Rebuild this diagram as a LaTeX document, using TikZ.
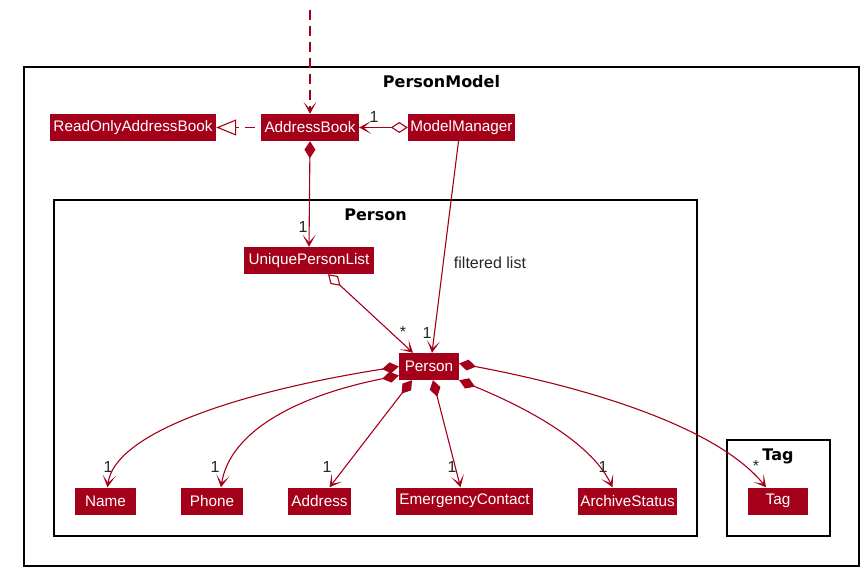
\documentclass[tikz,border=0pt]{standalone}
\usepackage{fontspec}
\setmainfont{DejaVu Sans}
\newfontfamily\clsfont{Liberation Sans}
\usetikzlibrary{arrows.meta}
\definecolor{umlred}{HTML}{A5001A}
\begin{document}
\begin{tikzpicture}[x=1pt,y=-1pt,
  cls/.style={fill=umlred, text=white, font=\clsfont\fontsize{15.3}{17}\selectfont, minimum height=27pt, inner sep=0pt},
  frame/.style={draw=black, line width=1.3pt},
  ttl/.style={font=\fontsize{16}{18}\selectfont\bfseries, inner sep=0pt},
  lbl/.style={font=\clsfont\fontsize{16}{18}\selectfont, inner sep=0pt, text=black!85},
  conn/.style={draw=umlred, line width=1.1pt},
  opentip/.tip={Stealth[length=12pt,width=13pt,inset=7.5pt]},
  fdia/.tip={Diamond[length=17pt,width=11pt]},
  hdia/.tip={Diamond[open,length=17pt,width=11pt,fill=white]},
  dashline/.style={dash pattern=on 10pt off 6pt}
]
\useasboundingbox (0,0) rectangle (866,575);
% frames
\draw[frame] (24,67) rectangle (859,566);
\draw[frame] (54,200) rectangle (697,536);
\draw[frame] (727,440) rectangle (830,536);
\node[ttl] (tmodel) at (441.5,82) {PersonModel};
\node[ttl] (tperson) at (375.5,215) {Person};
\node[ttl] (ttag) at (778,456) {Tag};
% classes
\node[cls, minimum width=166pt] (roab) at (133,127.5) {ReadOnlyAddressBook};
\node[cls, minimum width=98pt] (ab) at (310,127.5) {AddressBook};
\node[cls, minimum width=107pt] (mm) at (461.5,127.5) {ModelManager};
\node[cls, minimum width=130pt] (upl) at (309,260.5) {UniquePersonList};
\node[cls, minimum width=60pt] (person) at (429,366.5) {Person};
\node[cls, minimum width=61pt] (name) at (105.5,501) {Name};
\node[cls, minimum width=62pt] (phone) at (212,501) {Phone};
\node[cls, minimum width=63pt] (address) at (319.5,501) {Address};
\node[cls, minimum width=137pt] (ec) at (464.5,501) {EmergencyContact};
\node[cls, minimum width=99pt] (as) at (627.5,501) {ArchiveStatus};
\node[cls, minimum width=60pt] (tag) at (778,501) {Tag};
% connectors
\coordinate (entry) at (310,10);
\draw[conn, dashline, -{opentip}] (entry) -- (ab.north);
\draw[conn, dash pattern=on 10pt off 6pt, dash phase=10pt, -{Triangle[open,length=20pt,width=16pt,fill=white]}] (ab.west) -- (roab.east);
\draw[conn, {hdia}-{opentip}] (mm.west) -- (ab.east);
\draw[conn, {fdia}-{opentip}] (ab.south) -- (upl.north);
\draw[conn, {hdia}-{opentip}] ([xshift=19pt]upl.south) -- ([xshift=-16pt]person.north);
\draw[conn, -{opentip}] ([xshift=-3pt]mm.south) -- ([xshift=3pt]person.north);
\draw[conn, {fdia}-{opentip}] (person.west) .. controls (250,390) and (115,430) .. ([xshift=2pt]name.north);
\draw[conn, {fdia}-{opentip}] ([yshift=-9pt]person.west) .. controls (300,395) and (230,430) .. ([xshift=9pt]phone.north);
\draw[conn, {fdia}-{opentip}] ([xshift=-17pt]person.south) -- ([xshift=10pt]address.north);
\draw[conn, {fdia}-{opentip}] ([xshift=4pt]person.south) -- ([xshift=-4pt]ec.north);
\draw[conn, {fdia}-{opentip}] (person.south east) .. controls (520,405) and (590,440) .. ([xshift=-15pt]as.north);
\draw[conn, {fdia}-{opentip}] ([yshift=3pt]person.east) .. controls (600,390) and (720,430) .. ([xshift=-12pt]tag.north);
% labels
\node[lbl] (l1) at (374,117) {1};
\node[lbl] (l2) at (303,227) {1};
\node[lbl] (l3) at (403,332) {*};
\node[lbl] (l4) at (427,333) {1};
\node[lbl] (l5) at (490,263) {filtered list};
\node[lbl] (l6) at (108,467) {1};
\node[lbl] (l7) at (215,467) {1};
\node[lbl] (l8) at (327,467) {1};
\node[lbl] (l9) at (452,467) {1};
\node[lbl] (l10) at (603,467) {1};
\node[lbl] (l11) at (756,466) {*};
\end{tikzpicture}
\end{document}
